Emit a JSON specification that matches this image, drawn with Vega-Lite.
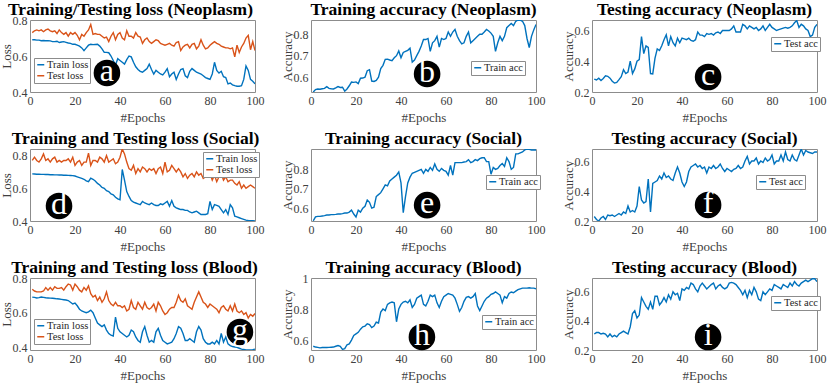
{
"$schema":"https://vega.github.io/schema/vega-lite/v6.json",
"background":"white",
"padding":{"left":-1,"top":0,"right":0,"bottom":0},
"columns":3,
"spacing":{"row":57,"column":56},
"bounds":"flush",
"resolve":{"scale":{"x":"independent","y":"independent","color":"independent"},"legend":{"color":"independent"}},
"datasets":{
"a":[{"e":1,"Train loss":0.69,"Test loss":0.73},{"e":2,"Train loss":0.69,"Test loss":0.74},{"e":3,"Train loss":0.688,"Test loss":0.745},{"e":4,"Train loss":0.688,"Test loss":0.74},{"e":5,"Train loss":0.685,"Test loss":0.745},{"e":6,"Train loss":0.686,"Test loss":0.735},{"e":7,"Train loss":0.685,"Test loss":0.745},{"e":8,"Train loss":0.685,"Test loss":0.75},{"e":9,"Train loss":0.684,"Test loss":0.74},{"e":10,"Train loss":0.68,"Test loss":0.735},{"e":11,"Train loss":0.68,"Test loss":0.74},{"e":12,"Train loss":0.682,"Test loss":0.725},{"e":13,"Train loss":0.675,"Test loss":0.745},{"e":14,"Train loss":0.678,"Test loss":0.73},{"e":15,"Train loss":0.68,"Test loss":0.72},{"e":16,"Train loss":0.676,"Test loss":0.73},{"e":17,"Train loss":0.672,"Test loss":0.71},{"e":18,"Train loss":0.67,"Test loss":0.73},{"e":19,"Train loss":0.665,"Test loss":0.72},{"e":20,"Train loss":0.665,"Test loss":0.73},{"e":21,"Train loss":0.66,"Test loss":0.715},{"e":22,"Train loss":0.655,"Test loss":0.69},{"e":23,"Train loss":0.645,"Test loss":0.72},{"e":24,"Train loss":0.63,"Test loss":0.71},{"e":25,"Train loss":0.645,"Test loss":0.73},{"e":26,"Train loss":0.66,"Test loss":0.745},{"e":27,"Train loss":0.665,"Test loss":0.775},{"e":28,"Train loss":0.663,"Test loss":0.72},{"e":29,"Train loss":0.664,"Test loss":0.725},{"e":30,"Train loss":0.665,"Test loss":0.72},{"e":31,"Train loss":0.655,"Test loss":0.72},{"e":32,"Train loss":0.64,"Test loss":0.71},{"e":33,"Train loss":0.62,"Test loss":0.7},{"e":34,"Train loss":0.62,"Test loss":0.705},{"e":35,"Train loss":0.618,"Test loss":0.68},{"e":36,"Train loss":0.6,"Test loss":0.71},{"e":37,"Train loss":0.575,"Test loss":0.73},{"e":38,"Train loss":0.55,"Test loss":0.69},{"e":39,"Train loss":0.585,"Test loss":0.72},{"e":40,"Train loss":0.575,"Test loss":0.73},{"e":41,"Train loss":0.565,"Test loss":0.7},{"e":42,"Train loss":0.555,"Test loss":0.69},{"e":43,"Train loss":0.58,"Test loss":0.74},{"e":44,"Train loss":0.6,"Test loss":0.71},{"e":45,"Train loss":0.595,"Test loss":0.71},{"e":46,"Train loss":0.565,"Test loss":0.7},{"e":47,"Train loss":0.54,"Test loss":0.73},{"e":48,"Train loss":0.525,"Test loss":0.71},{"e":49,"Train loss":0.515,"Test loss":0.705},{"e":50,"Train loss":0.51,"Test loss":0.67},{"e":51,"Train loss":0.52,"Test loss":0.69},{"e":52,"Train loss":0.53,"Test loss":0.7},{"e":53,"Train loss":0.555,"Test loss":0.68},{"e":54,"Train loss":0.525,"Test loss":0.67},{"e":55,"Train loss":0.5,"Test loss":0.68},{"e":56,"Train loss":0.52,"Test loss":0.69},{"e":57,"Train loss":0.51,"Test loss":0.685},{"e":58,"Train loss":0.5,"Test loss":0.67},{"e":59,"Train loss":0.495,"Test loss":0.665},{"e":60,"Train loss":0.51,"Test loss":0.66},{"e":61,"Train loss":0.53,"Test loss":0.665},{"e":62,"Train loss":0.485,"Test loss":0.67},{"e":63,"Train loss":0.5,"Test loss":0.66},{"e":64,"Train loss":0.51,"Test loss":0.655},{"e":65,"Train loss":0.47,"Test loss":0.675},{"e":66,"Train loss":0.5,"Test loss":0.68},{"e":67,"Train loss":0.525,"Test loss":0.63},{"e":68,"Train loss":0.53,"Test loss":0.65},{"e":69,"Train loss":0.49,"Test loss":0.66},{"e":70,"Train loss":0.48,"Test loss":0.665},{"e":71,"Train loss":0.515,"Test loss":0.645},{"e":72,"Train loss":0.53,"Test loss":0.665},{"e":73,"Train loss":0.52,"Test loss":0.67},{"e":74,"Train loss":0.51,"Test loss":0.64},{"e":75,"Train loss":0.505,"Test loss":0.655},{"e":76,"Train loss":0.5,"Test loss":0.69},{"e":77,"Train loss":0.49,"Test loss":0.66},{"e":78,"Train loss":0.48,"Test loss":0.64},{"e":79,"Train loss":0.475,"Test loss":0.645},{"e":80,"Train loss":0.47,"Test loss":0.66},{"e":81,"Train loss":0.5,"Test loss":0.67},{"e":82,"Train loss":0.565,"Test loss":0.68},{"e":83,"Train loss":0.52,"Test loss":0.67},{"e":84,"Train loss":0.505,"Test loss":0.665},{"e":85,"Train loss":0.515,"Test loss":0.655},{"e":86,"Train loss":0.485,"Test loss":0.65},{"e":87,"Train loss":0.48,"Test loss":0.645},{"e":88,"Train loss":0.445,"Test loss":0.645},{"e":89,"Train loss":0.45,"Test loss":0.64},{"e":90,"Train loss":0.44,"Test loss":0.645},{"e":91,"Train loss":0.435,"Test loss":0.595},{"e":92,"Train loss":0.432,"Test loss":0.66},{"e":93,"Train loss":0.432,"Test loss":0.62},{"e":94,"Train loss":0.435,"Test loss":0.65},{"e":95,"Train loss":0.47,"Test loss":0.67},{"e":96,"Train loss":0.545,"Test loss":0.7},{"e":97,"Train loss":0.52,"Test loss":0.715},{"e":98,"Train loss":0.47,"Test loss":0.635},{"e":99,"Train loss":0.46,"Test loss":0.68},{"e":100,"Train loss":0.445,"Test loss":0.63}],
"b":[{"e":1,"Train acc":0.531},{"e":2,"Train acc":0.542},{"e":3,"Train acc":0.545},{"e":4,"Train acc":0.544},{"e":5,"Train acc":0.546},{"e":6,"Train acc":0.548},{"e":7,"Train acc":0.556},{"e":8,"Train acc":0.548},{"e":9,"Train acc":0.546},{"e":10,"Train acc":0.545},{"e":11,"Train acc":0.55},{"e":12,"Train acc":0.556},{"e":13,"Train acc":0.552},{"e":14,"Train acc":0.553},{"e":15,"Train acc":0.535},{"e":16,"Train acc":0.545},{"e":17,"Train acc":0.56},{"e":18,"Train acc":0.577},{"e":19,"Train acc":0.576},{"e":20,"Train acc":0.578},{"e":21,"Train acc":0.57},{"e":22,"Train acc":0.595},{"e":23,"Train acc":0.596},{"e":24,"Train acc":0.6},{"e":25,"Train acc":0.63},{"e":26,"Train acc":0.635},{"e":27,"Train acc":0.582},{"e":28,"Train acc":0.58},{"e":29,"Train acc":0.585},{"e":30,"Train acc":0.6},{"e":31,"Train acc":0.64},{"e":32,"Train acc":0.655},{"e":33,"Train acc":0.683},{"e":34,"Train acc":0.684},{"e":35,"Train acc":0.68},{"e":36,"Train acc":0.677},{"e":37,"Train acc":0.69},{"e":38,"Train acc":0.7},{"e":39,"Train acc":0.722},{"e":40,"Train acc":0.69},{"e":41,"Train acc":0.715},{"e":42,"Train acc":0.72},{"e":43,"Train acc":0.725},{"e":44,"Train acc":0.735},{"e":45,"Train acc":0.67},{"e":46,"Train acc":0.68},{"e":47,"Train acc":0.7},{"e":48,"Train acc":0.72},{"e":49,"Train acc":0.745},{"e":50,"Train acc":0.775},{"e":51,"Train acc":0.775},{"e":52,"Train acc":0.78},{"e":53,"Train acc":0.72},{"e":54,"Train acc":0.76},{"e":55,"Train acc":0.77},{"e":56,"Train acc":0.79},{"e":57,"Train acc":0.74},{"e":58,"Train acc":0.78},{"e":59,"Train acc":0.775},{"e":60,"Train acc":0.78},{"e":61,"Train acc":0.81},{"e":62,"Train acc":0.79},{"e":63,"Train acc":0.81},{"e":64,"Train acc":0.822},{"e":65,"Train acc":0.79},{"e":66,"Train acc":0.77},{"e":67,"Train acc":0.755},{"e":68,"Train acc":0.76},{"e":69,"Train acc":0.79},{"e":70,"Train acc":0.81},{"e":71,"Train acc":0.76},{"e":72,"Train acc":0.77},{"e":73,"Train acc":0.78},{"e":74,"Train acc":0.79},{"e":75,"Train acc":0.8},{"e":76,"Train acc":0.8},{"e":77,"Train acc":0.81},{"e":78,"Train acc":0.822},{"e":79,"Train acc":0.815},{"e":80,"Train acc":0.805},{"e":81,"Train acc":0.79},{"e":82,"Train acc":0.72},{"e":83,"Train acc":0.76},{"e":84,"Train acc":0.79},{"e":85,"Train acc":0.77},{"e":86,"Train acc":0.79},{"e":87,"Train acc":0.83},{"e":88,"Train acc":0.84},{"e":89,"Train acc":0.85},{"e":90,"Train acc":0.84},{"e":91,"Train acc":0.86},{"e":92,"Train acc":0.866},{"e":93,"Train acc":0.865},{"e":94,"Train acc":0.86},{"e":95,"Train acc":0.84},{"e":96,"Train acc":0.78},{"e":97,"Train acc":0.738},{"e":98,"Train acc":0.79},{"e":99,"Train acc":0.82},{"e":100,"Train acc":0.845}],
"c":[{"e":1,"Test acc":0.284},{"e":2,"Test acc":0.278},{"e":3,"Test acc":0.29},{"e":4,"Test acc":0.275},{"e":5,"Test acc":0.288},{"e":6,"Test acc":0.305},{"e":7,"Test acc":0.302},{"e":8,"Test acc":0.29},{"e":9,"Test acc":0.27},{"e":10,"Test acc":0.258},{"e":11,"Test acc":0.262},{"e":12,"Test acc":0.28},{"e":13,"Test acc":0.3},{"e":14,"Test acc":0.345},{"e":15,"Test acc":0.32},{"e":16,"Test acc":0.33},{"e":17,"Test acc":0.4},{"e":18,"Test acc":0.32},{"e":19,"Test acc":0.35},{"e":20,"Test acc":0.4},{"e":21,"Test acc":0.41},{"e":22,"Test acc":0.56},{"e":23,"Test acc":0.45},{"e":24,"Test acc":0.5},{"e":25,"Test acc":0.49},{"e":26,"Test acc":0.32},{"e":27,"Test acc":0.318},{"e":28,"Test acc":0.42},{"e":29,"Test acc":0.48},{"e":30,"Test acc":0.47},{"e":31,"Test acc":0.5},{"e":32,"Test acc":0.54},{"e":33,"Test acc":0.572},{"e":34,"Test acc":0.5},{"e":35,"Test acc":0.56},{"e":36,"Test acc":0.52},{"e":37,"Test acc":0.5},{"e":38,"Test acc":0.55},{"e":39,"Test acc":0.52},{"e":40,"Test acc":0.55},{"e":41,"Test acc":0.545},{"e":42,"Test acc":0.54},{"e":43,"Test acc":0.55},{"e":44,"Test acc":0.535},{"e":45,"Test acc":0.53},{"e":46,"Test acc":0.54},{"e":47,"Test acc":0.59},{"e":48,"Test acc":0.57},{"e":49,"Test acc":0.57},{"e":50,"Test acc":0.56},{"e":51,"Test acc":0.58},{"e":52,"Test acc":0.575},{"e":53,"Test acc":0.58},{"e":54,"Test acc":0.57},{"e":55,"Test acc":0.585},{"e":56,"Test acc":0.59},{"e":57,"Test acc":0.58},{"e":58,"Test acc":0.6},{"e":59,"Test acc":0.6},{"e":60,"Test acc":0.6},{"e":61,"Test acc":0.6},{"e":62,"Test acc":0.61},{"e":63,"Test acc":0.63},{"e":64,"Test acc":0.59},{"e":65,"Test acc":0.59},{"e":66,"Test acc":0.59},{"e":67,"Test acc":0.64},{"e":68,"Test acc":0.63},{"e":69,"Test acc":0.61},{"e":70,"Test acc":0.63},{"e":71,"Test acc":0.62},{"e":72,"Test acc":0.61},{"e":73,"Test acc":0.62},{"e":74,"Test acc":0.6},{"e":75,"Test acc":0.61},{"e":76,"Test acc":0.63},{"e":77,"Test acc":0.6},{"e":78,"Test acc":0.62},{"e":79,"Test acc":0.64},{"e":80,"Test acc":0.62},{"e":81,"Test acc":0.61},{"e":82,"Test acc":0.6},{"e":83,"Test acc":0.605},{"e":84,"Test acc":0.61},{"e":85,"Test acc":0.615},{"e":86,"Test acc":0.62},{"e":87,"Test acc":0.615},{"e":88,"Test acc":0.62},{"e":89,"Test acc":0.63},{"e":90,"Test acc":0.65},{"e":91,"Test acc":0.665},{"e":92,"Test acc":0.62},{"e":93,"Test acc":0.64},{"e":94,"Test acc":0.63},{"e":95,"Test acc":0.61},{"e":96,"Test acc":0.6},{"e":97,"Test acc":0.56},{"e":98,"Test acc":0.57},{"e":99,"Test acc":0.62},{"e":100,"Test acc":0.64}],
"d":[{"e":1,"Train loss":0.688,"Test loss":0.77},{"e":2,"Train loss":0.687,"Test loss":0.79},{"e":3,"Train loss":0.686,"Test loss":0.77},{"e":4,"Train loss":0.686,"Test loss":0.76},{"e":5,"Train loss":0.685,"Test loss":0.78},{"e":6,"Train loss":0.685,"Test loss":0.81},{"e":7,"Train loss":0.684,"Test loss":0.77},{"e":8,"Train loss":0.684,"Test loss":0.78},{"e":9,"Train loss":0.683,"Test loss":0.76},{"e":10,"Train loss":0.683,"Test loss":0.78},{"e":11,"Train loss":0.682,"Test loss":0.79},{"e":12,"Train loss":0.682,"Test loss":0.76},{"e":13,"Train loss":0.681,"Test loss":0.77},{"e":14,"Train loss":0.681,"Test loss":0.76},{"e":15,"Train loss":0.68,"Test loss":0.77},{"e":16,"Train loss":0.68,"Test loss":0.77},{"e":17,"Train loss":0.679,"Test loss":0.78},{"e":18,"Train loss":0.678,"Test loss":0.76},{"e":19,"Train loss":0.677,"Test loss":0.79},{"e":20,"Train loss":0.675,"Test loss":0.74},{"e":21,"Train loss":0.67,"Test loss":0.76},{"e":22,"Train loss":0.665,"Test loss":0.77},{"e":23,"Train loss":0.66,"Test loss":0.74},{"e":24,"Train loss":0.655,"Test loss":0.76},{"e":25,"Train loss":0.645,"Test loss":0.76},{"e":26,"Train loss":0.64,"Test loss":0.815},{"e":27,"Train loss":0.662,"Test loss":0.74},{"e":28,"Train loss":0.655,"Test loss":0.77},{"e":29,"Train loss":0.645,"Test loss":0.77},{"e":30,"Train loss":0.63,"Test loss":0.76},{"e":31,"Train loss":0.62,"Test loss":0.79},{"e":32,"Train loss":0.605,"Test loss":0.78},{"e":33,"Train loss":0.6,"Test loss":0.76},{"e":34,"Train loss":0.585,"Test loss":0.8},{"e":35,"Train loss":0.58,"Test loss":0.76},{"e":36,"Train loss":0.565,"Test loss":0.77},{"e":37,"Train loss":0.56,"Test loss":0.78},{"e":38,"Train loss":0.545,"Test loss":0.75},{"e":39,"Train loss":0.535,"Test loss":0.76},{"e":40,"Train loss":0.53,"Test loss":0.79},{"e":41,"Train loss":0.715,"Test loss":0.84},{"e":42,"Train loss":0.65,"Test loss":0.81},{"e":43,"Train loss":0.58,"Test loss":0.76},{"e":44,"Train loss":0.55,"Test loss":0.72},{"e":45,"Train loss":0.525,"Test loss":0.71},{"e":46,"Train loss":0.515,"Test loss":0.74},{"e":47,"Train loss":0.51,"Test loss":0.69},{"e":48,"Train loss":0.505,"Test loss":0.72},{"e":49,"Train loss":0.5,"Test loss":0.7},{"e":50,"Train loss":0.52,"Test loss":0.73},{"e":51,"Train loss":0.51,"Test loss":0.72},{"e":52,"Train loss":0.505,"Test loss":0.7},{"e":53,"Train loss":0.5,"Test loss":0.72},{"e":54,"Train loss":0.51,"Test loss":0.71},{"e":55,"Train loss":0.5,"Test loss":0.72},{"e":56,"Train loss":0.495,"Test loss":0.69},{"e":57,"Train loss":0.495,"Test loss":0.72},{"e":58,"Train loss":0.505,"Test loss":0.73},{"e":59,"Train loss":0.5,"Test loss":0.69},{"e":60,"Train loss":0.51,"Test loss":0.76},{"e":61,"Train loss":0.52,"Test loss":0.7},{"e":62,"Train loss":0.49,"Test loss":0.71},{"e":63,"Train loss":0.525,"Test loss":0.74},{"e":64,"Train loss":0.49,"Test loss":0.72},{"e":65,"Train loss":0.48,"Test loss":0.7},{"e":66,"Train loss":0.475,"Test loss":0.72},{"e":67,"Train loss":0.47,"Test loss":0.7},{"e":68,"Train loss":0.47,"Test loss":0.67},{"e":69,"Train loss":0.465,"Test loss":0.69},{"e":70,"Train loss":0.465,"Test loss":0.66},{"e":71,"Train loss":0.455,"Test loss":0.68},{"e":72,"Train loss":0.45,"Test loss":0.69},{"e":73,"Train loss":0.455,"Test loss":0.67},{"e":74,"Train loss":0.46,"Test loss":0.7},{"e":75,"Train loss":0.45,"Test loss":0.68},{"e":76,"Train loss":0.44,"Test loss":0.69},{"e":77,"Train loss":0.44,"Test loss":0.66},{"e":78,"Train loss":0.44,"Test loss":0.67},{"e":79,"Train loss":0.445,"Test loss":0.7},{"e":80,"Train loss":0.52,"Test loss":0.69},{"e":81,"Train loss":0.47,"Test loss":0.65},{"e":82,"Train loss":0.5,"Test loss":0.68},{"e":83,"Train loss":0.495,"Test loss":0.64},{"e":84,"Train loss":0.49,"Test loss":0.67},{"e":85,"Train loss":0.47,"Test loss":0.69},{"e":86,"Train loss":0.45,"Test loss":0.65},{"e":87,"Train loss":0.47,"Test loss":0.67},{"e":88,"Train loss":0.44,"Test loss":0.64},{"e":89,"Train loss":0.5,"Test loss":0.65},{"e":90,"Train loss":0.48,"Test loss":0.65},{"e":91,"Train loss":0.43,"Test loss":0.63},{"e":92,"Train loss":0.425,"Test loss":0.62},{"e":93,"Train loss":0.42,"Test loss":0.64},{"e":94,"Train loss":0.415,"Test loss":0.6},{"e":95,"Train loss":0.41,"Test loss":0.62},{"e":96,"Train loss":0.405,"Test loss":0.6},{"e":97,"Train loss":0.403,"Test loss":0.61},{"e":98,"Train loss":0.402,"Test loss":0.62},{"e":99,"Train loss":0.402,"Test loss":0.61},{"e":100,"Train loss":0.401,"Test loss":0.6}],
"e":[{"e":1,"Train acc":0.535},{"e":2,"Train acc":0.555},{"e":3,"Train acc":0.558},{"e":4,"Train acc":0.558},{"e":5,"Train acc":0.56},{"e":6,"Train acc":0.562},{"e":7,"Train acc":0.565},{"e":8,"Train acc":0.565},{"e":9,"Train acc":0.567},{"e":10,"Train acc":0.567},{"e":11,"Train acc":0.568},{"e":12,"Train acc":0.57},{"e":13,"Train acc":0.57},{"e":14,"Train acc":0.572},{"e":15,"Train acc":0.575},{"e":16,"Train acc":0.575},{"e":17,"Train acc":0.58},{"e":18,"Train acc":0.59},{"e":19,"Train acc":0.57},{"e":20,"Train acc":0.555},{"e":21,"Train acc":0.59},{"e":22,"Train acc":0.58},{"e":23,"Train acc":0.6},{"e":24,"Train acc":0.61},{"e":25,"Train acc":0.642},{"e":26,"Train acc":0.63},{"e":27,"Train acc":0.6},{"e":28,"Train acc":0.605},{"e":29,"Train acc":0.66},{"e":30,"Train acc":0.67},{"e":31,"Train acc":0.68},{"e":32,"Train acc":0.7},{"e":33,"Train acc":0.72},{"e":34,"Train acc":0.715},{"e":35,"Train acc":0.74},{"e":36,"Train acc":0.75},{"e":37,"Train acc":0.76},{"e":38,"Train acc":0.77},{"e":39,"Train acc":0.787},{"e":40,"Train acc":0.73},{"e":41,"Train acc":0.577},{"e":42,"Train acc":0.66},{"e":43,"Train acc":0.73},{"e":44,"Train acc":0.76},{"e":45,"Train acc":0.78},{"e":46,"Train acc":0.785},{"e":47,"Train acc":0.79},{"e":48,"Train acc":0.795},{"e":49,"Train acc":0.8},{"e":50,"Train acc":0.78},{"e":51,"Train acc":0.8},{"e":52,"Train acc":0.79},{"e":53,"Train acc":0.81},{"e":54,"Train acc":0.795},{"e":55,"Train acc":0.828},{"e":56,"Train acc":0.8},{"e":57,"Train acc":0.79},{"e":58,"Train acc":0.805},{"e":59,"Train acc":0.795},{"e":60,"Train acc":0.79},{"e":61,"Train acc":0.77},{"e":62,"Train acc":0.82},{"e":63,"Train acc":0.77},{"e":64,"Train acc":0.835},{"e":65,"Train acc":0.835},{"e":66,"Train acc":0.835},{"e":67,"Train acc":0.835},{"e":68,"Train acc":0.838},{"e":69,"Train acc":0.84},{"e":70,"Train acc":0.85},{"e":71,"Train acc":0.835},{"e":72,"Train acc":0.84},{"e":73,"Train acc":0.85},{"e":74,"Train acc":0.845},{"e":75,"Train acc":0.855},{"e":76,"Train acc":0.86},{"e":77,"Train acc":0.86},{"e":78,"Train acc":0.84},{"e":79,"Train acc":0.84},{"e":80,"Train acc":0.775},{"e":81,"Train acc":0.81},{"e":82,"Train acc":0.8},{"e":83,"Train acc":0.805},{"e":84,"Train acc":0.82},{"e":85,"Train acc":0.83},{"e":86,"Train acc":0.815},{"e":87,"Train acc":0.86},{"e":88,"Train acc":0.84},{"e":89,"Train acc":0.8},{"e":90,"Train acc":0.81},{"e":91,"Train acc":0.88},{"e":92,"Train acc":0.88},{"e":93,"Train acc":0.885},{"e":94,"Train acc":0.89},{"e":95,"Train acc":0.9},{"e":96,"Train acc":0.905},{"e":97,"Train acc":0.903},{"e":98,"Train acc":0.9},{"e":99,"Train acc":0.9},{"e":100,"Train acc":0.9}],
"f":[{"e":1,"Test acc":0.23},{"e":2,"Test acc":0.21},{"e":3,"Test acc":0.2},{"e":4,"Test acc":0.22},{"e":5,"Test acc":0.23},{"e":6,"Test acc":0.21},{"e":7,"Test acc":0.24},{"e":8,"Test acc":0.235},{"e":9,"Test acc":0.24},{"e":10,"Test acc":0.23},{"e":11,"Test acc":0.24},{"e":12,"Test acc":0.25},{"e":13,"Test acc":0.24},{"e":14,"Test acc":0.26},{"e":15,"Test acc":0.25},{"e":16,"Test acc":0.3},{"e":17,"Test acc":0.26},{"e":18,"Test acc":0.27},{"e":19,"Test acc":0.26},{"e":20,"Test acc":0.3},{"e":21,"Test acc":0.43},{"e":22,"Test acc":0.34},{"e":23,"Test acc":0.32},{"e":24,"Test acc":0.33},{"e":25,"Test acc":0.48},{"e":26,"Test acc":0.26},{"e":27,"Test acc":0.45},{"e":28,"Test acc":0.46},{"e":29,"Test acc":0.47},{"e":30,"Test acc":0.5},{"e":31,"Test acc":0.48},{"e":32,"Test acc":0.52},{"e":33,"Test acc":0.49},{"e":34,"Test acc":0.5},{"e":35,"Test acc":0.48},{"e":36,"Test acc":0.47},{"e":37,"Test acc":0.52},{"e":38,"Test acc":0.56},{"e":39,"Test acc":0.52},{"e":40,"Test acc":0.46},{"e":41,"Test acc":0.43},{"e":42,"Test acc":0.46},{"e":43,"Test acc":0.53},{"e":44,"Test acc":0.56},{"e":45,"Test acc":0.57},{"e":46,"Test acc":0.58},{"e":47,"Test acc":0.56},{"e":48,"Test acc":0.57},{"e":49,"Test acc":0.55},{"e":50,"Test acc":0.56},{"e":51,"Test acc":0.52},{"e":52,"Test acc":0.56},{"e":53,"Test acc":0.55},{"e":54,"Test acc":0.57},{"e":55,"Test acc":0.55},{"e":56,"Test acc":0.56},{"e":57,"Test acc":0.58},{"e":58,"Test acc":0.55},{"e":59,"Test acc":0.53},{"e":60,"Test acc":0.55},{"e":61,"Test acc":0.54},{"e":62,"Test acc":0.53},{"e":63,"Test acc":0.545},{"e":64,"Test acc":0.55},{"e":65,"Test acc":0.57},{"e":66,"Test acc":0.55},{"e":67,"Test acc":0.56},{"e":68,"Test acc":0.6},{"e":69,"Test acc":0.63},{"e":70,"Test acc":0.58},{"e":71,"Test acc":0.6},{"e":72,"Test acc":0.6},{"e":73,"Test acc":0.62},{"e":74,"Test acc":0.58},{"e":75,"Test acc":0.6},{"e":76,"Test acc":0.59},{"e":77,"Test acc":0.62},{"e":78,"Test acc":0.6},{"e":79,"Test acc":0.61},{"e":80,"Test acc":0.64},{"e":81,"Test acc":0.58},{"e":82,"Test acc":0.6},{"e":83,"Test acc":0.6},{"e":84,"Test acc":0.64},{"e":85,"Test acc":0.6},{"e":86,"Test acc":0.66},{"e":87,"Test acc":0.61},{"e":88,"Test acc":0.6},{"e":89,"Test acc":0.64},{"e":90,"Test acc":0.61},{"e":91,"Test acc":0.6},{"e":92,"Test acc":0.64},{"e":93,"Test acc":0.68},{"e":94,"Test acc":0.64},{"e":95,"Test acc":0.67},{"e":96,"Test acc":0.66},{"e":97,"Test acc":0.655},{"e":98,"Test acc":0.65},{"e":99,"Test acc":0.66},{"e":100,"Test acc":0.66}],
"g":[{"e":1,"Train loss":0.69,"Test loss":0.735},{"e":2,"Train loss":0.688,"Test loss":0.725},{"e":3,"Train loss":0.685,"Test loss":0.72},{"e":4,"Train loss":0.687,"Test loss":0.72},{"e":5,"Train loss":0.69,"Test loss":0.72},{"e":6,"Train loss":0.688,"Test loss":0.725},{"e":7,"Train loss":0.686,"Test loss":0.745},{"e":8,"Train loss":0.685,"Test loss":0.73},{"e":9,"Train loss":0.684,"Test loss":0.745},{"e":10,"Train loss":0.683,"Test loss":0.73},{"e":11,"Train loss":0.682,"Test loss":0.75},{"e":12,"Train loss":0.68,"Test loss":0.74},{"e":13,"Train loss":0.679,"Test loss":0.74},{"e":14,"Train loss":0.677,"Test loss":0.745},{"e":15,"Train loss":0.675,"Test loss":0.73},{"e":16,"Train loss":0.673,"Test loss":0.75},{"e":17,"Train loss":0.67,"Test loss":0.765},{"e":18,"Train loss":0.66,"Test loss":0.76},{"e":19,"Train loss":0.65,"Test loss":0.73},{"e":20,"Train loss":0.655,"Test loss":0.765},{"e":21,"Train loss":0.64,"Test loss":0.75},{"e":22,"Train loss":0.62,"Test loss":0.73},{"e":23,"Train loss":0.61,"Test loss":0.72},{"e":24,"Train loss":0.605,"Test loss":0.745},{"e":25,"Train loss":0.6,"Test loss":0.73},{"e":26,"Train loss":0.605,"Test loss":0.755},{"e":27,"Train loss":0.615,"Test loss":0.71},{"e":28,"Train loss":0.6,"Test loss":0.69},{"e":29,"Train loss":0.57,"Test loss":0.7},{"e":30,"Train loss":0.54,"Test loss":0.67},{"e":31,"Train loss":0.53,"Test loss":0.69},{"e":32,"Train loss":0.52,"Test loss":0.66},{"e":33,"Train loss":0.53,"Test loss":0.68},{"e":34,"Train loss":0.5,"Test loss":0.72},{"e":35,"Train loss":0.48,"Test loss":0.67},{"e":36,"Train loss":0.47,"Test loss":0.65},{"e":37,"Train loss":0.465,"Test loss":0.64},{"e":38,"Train loss":0.575,"Test loss":0.66},{"e":39,"Train loss":0.51,"Test loss":0.64},{"e":40,"Train loss":0.49,"Test loss":0.64},{"e":41,"Train loss":0.48,"Test loss":0.63},{"e":42,"Train loss":0.47,"Test loss":0.64},{"e":43,"Train loss":0.46,"Test loss":0.61},{"e":44,"Train loss":0.47,"Test loss":0.62},{"e":45,"Train loss":0.5,"Test loss":0.67},{"e":46,"Train loss":0.49,"Test loss":0.63},{"e":47,"Train loss":0.46,"Test loss":0.62},{"e":48,"Train loss":0.44,"Test loss":0.66},{"e":49,"Train loss":0.43,"Test loss":0.64},{"e":50,"Train loss":0.49,"Test loss":0.62},{"e":51,"Train loss":0.52,"Test loss":0.66},{"e":52,"Train loss":0.47,"Test loss":0.63},{"e":53,"Train loss":0.43,"Test loss":0.62},{"e":54,"Train loss":0.44,"Test loss":0.63},{"e":55,"Train loss":0.43,"Test loss":0.65},{"e":56,"Train loss":0.49,"Test loss":0.61},{"e":57,"Train loss":0.51,"Test loss":0.66},{"e":58,"Train loss":0.47,"Test loss":0.64},{"e":59,"Train loss":0.44,"Test loss":0.61},{"e":60,"Train loss":0.43,"Test loss":0.59},{"e":61,"Train loss":0.42,"Test loss":0.6},{"e":62,"Train loss":0.425,"Test loss":0.62},{"e":63,"Train loss":0.43,"Test loss":0.63},{"e":64,"Train loss":0.45,"Test loss":0.63},{"e":65,"Train loss":0.48,"Test loss":0.66},{"e":66,"Train loss":0.52,"Test loss":0.7},{"e":67,"Train loss":0.51,"Test loss":0.67},{"e":68,"Train loss":0.48,"Test loss":0.66},{"e":69,"Train loss":0.44,"Test loss":0.68},{"e":70,"Train loss":0.44,"Test loss":0.64},{"e":71,"Train loss":0.45,"Test loss":0.63},{"e":72,"Train loss":0.44,"Test loss":0.62},{"e":73,"Train loss":0.43,"Test loss":0.66},{"e":74,"Train loss":0.49,"Test loss":0.69},{"e":75,"Train loss":0.52,"Test loss":0.72},{"e":76,"Train loss":0.5,"Test loss":0.69},{"e":77,"Train loss":0.45,"Test loss":0.66},{"e":78,"Train loss":0.43,"Test loss":0.65},{"e":79,"Train loss":0.42,"Test loss":0.63},{"e":80,"Train loss":0.42,"Test loss":0.65},{"e":81,"Train loss":0.43,"Test loss":0.64},{"e":82,"Train loss":0.42,"Test loss":0.63},{"e":83,"Train loss":0.44,"Test loss":0.62},{"e":84,"Train loss":0.42,"Test loss":0.6},{"e":85,"Train loss":0.48,"Test loss":0.63},{"e":86,"Train loss":0.43,"Test loss":0.64},{"e":87,"Train loss":0.46,"Test loss":0.62},{"e":88,"Train loss":0.42,"Test loss":0.61},{"e":89,"Train loss":0.41,"Test loss":0.64},{"e":90,"Train loss":0.405,"Test loss":0.61},{"e":91,"Train loss":0.402,"Test loss":0.65},{"e":92,"Train loss":0.4,"Test loss":0.61},{"e":93,"Train loss":0.395,"Test loss":0.6},{"e":94,"Train loss":0.39,"Test loss":0.61},{"e":95,"Train loss":0.388,"Test loss":0.59},{"e":96,"Train loss":0.385,"Test loss":0.6},{"e":97,"Train loss":0.385,"Test loss":0.57},{"e":98,"Train loss":0.385,"Test loss":0.59},{"e":99,"Train loss":0.387,"Test loss":0.58},{"e":100,"Train loss":0.39,"Test loss":0.595}],
"h":[{"e":1,"Train acc":0.56},{"e":2,"Train acc":0.555},{"e":3,"Train acc":0.553},{"e":4,"Train acc":0.55},{"e":5,"Train acc":0.552},{"e":6,"Train acc":0.553},{"e":7,"Train acc":0.552},{"e":8,"Train acc":0.553},{"e":9,"Train acc":0.554},{"e":10,"Train acc":0.555},{"e":11,"Train acc":0.56},{"e":12,"Train acc":0.565},{"e":13,"Train acc":0.56},{"e":14,"Train acc":0.54},{"e":15,"Train acc":0.545},{"e":16,"Train acc":0.57},{"e":17,"Train acc":0.575},{"e":18,"Train acc":0.6},{"e":19,"Train acc":0.63},{"e":20,"Train acc":0.64},{"e":21,"Train acc":0.65},{"e":22,"Train acc":0.67},{"e":23,"Train acc":0.685},{"e":24,"Train acc":0.69},{"e":25,"Train acc":0.705},{"e":26,"Train acc":0.7},{"e":27,"Train acc":0.68},{"e":28,"Train acc":0.69},{"e":29,"Train acc":0.715},{"e":30,"Train acc":0.71},{"e":31,"Train acc":0.78},{"e":32,"Train acc":0.8},{"e":33,"Train acc":0.79},{"e":34,"Train acc":0.83},{"e":35,"Train acc":0.84},{"e":36,"Train acc":0.845},{"e":37,"Train acc":0.84},{"e":38,"Train acc":0.718},{"e":39,"Train acc":0.8},{"e":40,"Train acc":0.83},{"e":41,"Train acc":0.845},{"e":42,"Train acc":0.85},{"e":43,"Train acc":0.84},{"e":44,"Train acc":0.86},{"e":45,"Train acc":0.81},{"e":46,"Train acc":0.83},{"e":47,"Train acc":0.87},{"e":48,"Train acc":0.88},{"e":49,"Train acc":0.89},{"e":50,"Train acc":0.83},{"e":51,"Train acc":0.82},{"e":52,"Train acc":0.85},{"e":53,"Train acc":0.89},{"e":54,"Train acc":0.88},{"e":55,"Train acc":0.89},{"e":56,"Train acc":0.84},{"e":57,"Train acc":0.81},{"e":58,"Train acc":0.85},{"e":59,"Train acc":0.88},{"e":60,"Train acc":0.89},{"e":61,"Train acc":0.9},{"e":62,"Train acc":0.895},{"e":63,"Train acc":0.89},{"e":64,"Train acc":0.87},{"e":65,"Train acc":0.83},{"e":66,"Train acc":0.785},{"e":67,"Train acc":0.81},{"e":68,"Train acc":0.85},{"e":69,"Train acc":0.875},{"e":70,"Train acc":0.88},{"e":71,"Train acc":0.87},{"e":72,"Train acc":0.88},{"e":73,"Train acc":0.9},{"e":74,"Train acc":0.82},{"e":75,"Train acc":0.79},{"e":76,"Train acc":0.82},{"e":77,"Train acc":0.85},{"e":78,"Train acc":0.87},{"e":79,"Train acc":0.88},{"e":80,"Train acc":0.895},{"e":81,"Train acc":0.9},{"e":82,"Train acc":0.91},{"e":83,"Train acc":0.9},{"e":84,"Train acc":0.89},{"e":85,"Train acc":0.84},{"e":86,"Train acc":0.88},{"e":87,"Train acc":0.87},{"e":88,"Train acc":0.9},{"e":89,"Train acc":0.91},{"e":90,"Train acc":0.905},{"e":91,"Train acc":0.915},{"e":92,"Train acc":0.925},{"e":93,"Train acc":0.93},{"e":94,"Train acc":0.935},{"e":95,"Train acc":0.935},{"e":96,"Train acc":0.935},{"e":97,"Train acc":0.937},{"e":98,"Train acc":0.935},{"e":99,"Train acc":0.935},{"e":100,"Train acc":0.93}],
"i":[{"e":1,"Test acc":0.31},{"e":2,"Test acc":0.32},{"e":3,"Test acc":0.32},{"e":4,"Test acc":0.31},{"e":5,"Test acc":0.315},{"e":6,"Test acc":0.31},{"e":7,"Test acc":0.29},{"e":8,"Test acc":0.31},{"e":9,"Test acc":0.29},{"e":10,"Test acc":0.3},{"e":11,"Test acc":0.29},{"e":12,"Test acc":0.31},{"e":13,"Test acc":0.32},{"e":14,"Test acc":0.33},{"e":15,"Test acc":0.32},{"e":16,"Test acc":0.31},{"e":17,"Test acc":0.36},{"e":18,"Test acc":0.45},{"e":19,"Test acc":0.47},{"e":20,"Test acc":0.42},{"e":21,"Test acc":0.44},{"e":22,"Test acc":0.56},{"e":23,"Test acc":0.53},{"e":24,"Test acc":0.5},{"e":25,"Test acc":0.48},{"e":26,"Test acc":0.53},{"e":27,"Test acc":0.48},{"e":28,"Test acc":0.57},{"e":29,"Test acc":0.57},{"e":30,"Test acc":0.51},{"e":31,"Test acc":0.53},{"e":32,"Test acc":0.56},{"e":33,"Test acc":0.53},{"e":34,"Test acc":0.58},{"e":35,"Test acc":0.55},{"e":36,"Test acc":0.6},{"e":37,"Test acc":0.58},{"e":38,"Test acc":0.59},{"e":39,"Test acc":0.54},{"e":40,"Test acc":0.62},{"e":41,"Test acc":0.61},{"e":42,"Test acc":0.63},{"e":43,"Test acc":0.62},{"e":44,"Test acc":0.66},{"e":45,"Test acc":0.65},{"e":46,"Test acc":0.62},{"e":47,"Test acc":0.6},{"e":48,"Test acc":0.64},{"e":49,"Test acc":0.66},{"e":50,"Test acc":0.64},{"e":51,"Test acc":0.62},{"e":52,"Test acc":0.635},{"e":53,"Test acc":0.65},{"e":54,"Test acc":0.66},{"e":55,"Test acc":0.62},{"e":56,"Test acc":0.64},{"e":57,"Test acc":0.65},{"e":58,"Test acc":0.63},{"e":59,"Test acc":0.62},{"e":60,"Test acc":0.63},{"e":61,"Test acc":0.66},{"e":62,"Test acc":0.665},{"e":63,"Test acc":0.66},{"e":64,"Test acc":0.65},{"e":65,"Test acc":0.63},{"e":66,"Test acc":0.61},{"e":67,"Test acc":0.58},{"e":68,"Test acc":0.61},{"e":69,"Test acc":0.56},{"e":70,"Test acc":0.61},{"e":71,"Test acc":0.58},{"e":72,"Test acc":0.63},{"e":73,"Test acc":0.6},{"e":74,"Test acc":0.55},{"e":75,"Test acc":0.54},{"e":76,"Test acc":0.6},{"e":77,"Test acc":0.58},{"e":78,"Test acc":0.6},{"e":79,"Test acc":0.62},{"e":80,"Test acc":0.61},{"e":81,"Test acc":0.65},{"e":82,"Test acc":0.64},{"e":83,"Test acc":0.63},{"e":84,"Test acc":0.62},{"e":85,"Test acc":0.65},{"e":86,"Test acc":0.64},{"e":87,"Test acc":0.63},{"e":88,"Test acc":0.66},{"e":89,"Test acc":0.64},{"e":90,"Test acc":0.67},{"e":91,"Test acc":0.65},{"e":92,"Test acc":0.64},{"e":93,"Test acc":0.66},{"e":94,"Test acc":0.67},{"e":95,"Test acc":0.68},{"e":96,"Test acc":0.67},{"e":97,"Test acc":0.68},{"e":98,"Test acc":0.69},{"e":99,"Test acc":0.69},{"e":100,"Test acc":0.67}]
},
"concat":[
{"width":225,"height":72,"title":{"text":"Training/Testing loss (Neoplasm)","dx":-12,"dy":6},"data":{"name":"a"},
 "encoding":{"x":{"field":"e","type":"quantitative","scale":{"domain":[0,100],"nice":false},"axis":{"values":[0,20,40,60,80,100],"title":"#Epochs"}},
  "y":{"field":"v","type":"quantitative","scale":{"domain":[0.4,0.8],"nice":false,"zero":false},"axis":{"values":[0.4,0.6,0.8],"format":"~g","title":"Loss"}}},
 "layer":[
  {"transform":[{"fold":["Train loss","Test loss"],"as":["s","v"]},{"filter":"isValid(datum.v)"}],"mark":{"type":"line","strokeWidth":1.4,"clip":true},
   "encoding":{"color":{"field":"s","type":"nominal","scale":{"domain":["Train loss","Test loss"],"range":["#0072BD","#D95319"]},"legend":{"orient":"none","legendX":4,"legendY":38,"title":null}}}},
  {"data":{"values":[{"e":34.2,"v":0.506,"t":"a"}]},"mark":{"type":"point","shape":"circle","filled":true,"color":"black","opacity":1,"size":707}},
  {"data":{"values":[{"e":34.2,"v":0.506,"t":"a"}]},"mark":{"type":"text","color":"white","fontSize":32,"font":"Liberation Serif","baseline":"middle","align":"center","dy":-2},"encoding":{"text":{"field":"t"}}}
 ]},
{"width":225,"height":72,"title":{"text":"Training accuracy (Neoplasm)"},"data":{"name":"b"},
 "encoding":{"x":{"field":"e","type":"quantitative","scale":{"domain":[0,100],"nice":false},"axis":{"values":[0,20,40,60,80,100],"title":"#Epochs"}},
  "y":{"field":"v","type":"quantitative","scale":{"domain":[0.531,0.866],"nice":false,"zero":false},"axis":{"values":[0.6,0.7,0.8],"format":"~g","title":"Accuracy"}}},
 "layer":[
  {"transform":[{"fold":["Train acc"],"as":["s","v"]},{"filter":"isValid(datum.v)"}],"mark":{"type":"line","strokeWidth":1.4,"clip":true},
   "encoding":{"color":{"field":"s","type":"nominal","scale":{"domain":["Train acc"],"range":["#0072BD"]},"legend":{"orient":"none","legendX":160,"legendY":41,"title":null}}}},
  {"data":{"values":[{"e":51.6,"v":0.615,"t":"b"}]},"mark":{"type":"point","shape":"circle","filled":true,"color":"black","opacity":1,"size":707}},
  {"data":{"values":[{"e":51.6,"v":0.615,"t":"b"}]},"mark":{"type":"text","color":"white","fontSize":32,"font":"Liberation Serif","baseline":"middle","align":"center","dy":-2},"encoding":{"text":{"field":"t"}}}
 ]},
{"width":225,"height":72,"title":{"text":"Testing accuracy (Neoplasm)"},"data":{"name":"c"},
 "encoding":{"x":{"field":"e","type":"quantitative","scale":{"domain":[0,100],"nice":false},"axis":{"values":[0,20,40,60,80,100],"title":"#Epochs"}},
  "y":{"field":"v","type":"quantitative","scale":{"domain":[0.2,0.668],"nice":false,"zero":false},"axis":{"values":[0.2,0.4,0.6],"format":"~g","title":"Accuracy"}}},
 "layer":[
  {"transform":[{"fold":["Test acc"],"as":["s","v"]},{"filter":"isValid(datum.v)"}],"mark":{"type":"line","strokeWidth":1.4,"clip":true},
   "encoding":{"color":{"field":"s","type":"nominal","scale":{"domain":["Test acc"],"range":["#0072BD"]},"legend":{"orient":"none","legendX":179,"legendY":17,"title":null}}}},
  {"data":{"values":[{"e":51.6,"v":0.2975,"t":"c"}]},"mark":{"type":"point","shape":"circle","filled":true,"color":"black","opacity":1,"size":707}},
  {"data":{"values":[{"e":51.6,"v":0.2975,"t":"c"}]},"mark":{"type":"text","color":"white","fontSize":32,"font":"Liberation Serif","baseline":"middle","align":"center","dy":-2},"encoding":{"text":{"field":"t"}}}
 ]},
{"width":225,"height":72,"title":{"text":"Training and Testing loss (Social)","dx":-7},"data":{"name":"d"},
 "encoding":{"x":{"field":"e","type":"quantitative","scale":{"domain":[0,100],"nice":false},"axis":{"values":[0,20,40,60,80,100],"title":"#Epochs"}},
  "y":{"field":"v","type":"quantitative","scale":{"domain":[0.4,0.84],"nice":false,"zero":false},"axis":{"values":[0.4,0.6,0.8],"format":"~g","title":"Loss"}}},
 "layer":[
  {"transform":[{"fold":["Train loss","Test loss"],"as":["s","v"]},{"filter":"isValid(datum.v)"}],"mark":{"type":"line","strokeWidth":1.4,"clip":true},
   "encoding":{"color":{"field":"s","type":"nominal","scale":{"domain":["Train loss","Test loss"],"range":["#0072BD","#D95319"]},"legend":{"orient":"none","legendX":173,"legendY":3,"title":null}}}},
  {"data":{"values":[{"e":12.9,"v":0.492,"t":"d"}]},"mark":{"type":"point","shape":"circle","filled":true,"color":"black","opacity":1,"size":707}},
  {"data":{"values":[{"e":12.9,"v":0.492,"t":"d"}]},"mark":{"type":"text","color":"white","fontSize":32,"font":"Liberation Serif","baseline":"middle","align":"center","dy":-2},"encoding":{"text":{"field":"t"}}}
 ]},
{"width":225,"height":72,"title":{"text":"Training accuracy (Social)"},"data":{"name":"e"},
 "encoding":{"x":{"field":"e","type":"quantitative","scale":{"domain":[0,100],"nice":false},"axis":{"values":[0,20,40,60,80,100],"title":"#Epochs"}},
  "y":{"field":"v","type":"quantitative","scale":{"domain":[0.534,0.905],"nice":false,"zero":false},"axis":{"values":[0.6,0.7,0.8],"format":"~g","title":"Accuracy"}}},
 "layer":[
  {"transform":[{"fold":["Train acc"],"as":["s","v"]},{"filter":"isValid(datum.v)"}],"mark":{"type":"line","strokeWidth":1.4,"clip":true},
   "encoding":{"color":{"field":"s","type":"nominal","scale":{"domain":["Train acc"],"range":["#0072BD"]},"legend":{"orient":"none","legendX":175,"legendY":26,"title":null}}}},
  {"data":{"values":[{"e":51.6,"v":0.616,"t":"e"}]},"mark":{"type":"point","shape":"circle","filled":true,"color":"black","opacity":1,"size":707}},
  {"data":{"values":[{"e":51.6,"v":0.616,"t":"e"}]},"mark":{"type":"text","color":"white","fontSize":32,"font":"Liberation Serif","baseline":"middle","align":"center","dy":-2},"encoding":{"text":{"field":"t"}}}
 ]},
{"width":225,"height":72,"title":{"text":"Testing accuracy (Social)"},"data":{"name":"f"},
 "encoding":{"x":{"field":"e","type":"quantitative","scale":{"domain":[0,100],"nice":false},"axis":{"values":[0,20,40,60,80,100],"title":"#Epochs"}},
  "y":{"field":"v","type":"quantitative","scale":{"domain":[0.2,0.68],"nice":false,"zero":false},"axis":{"values":[0.2,0.4,0.6],"format":"~g","title":"Accuracy"}}},
 "layer":[
  {"transform":[{"fold":["Test acc"],"as":["s","v"]},{"filter":"isValid(datum.v)"}],"mark":{"type":"line","strokeWidth":1.4,"clip":true},
   "encoding":{"color":{"field":"s","type":"nominal","scale":{"domain":["Test acc"],"range":["#0072BD"]},"legend":{"orient":"none","legendX":164,"legendY":26,"title":null}}}},
  {"data":{"values":[{"e":51.6,"v":0.307,"t":"f"}]},"mark":{"type":"point","shape":"circle","filled":true,"color":"black","opacity":1,"size":707}},
  {"data":{"values":[{"e":51.6,"v":0.307,"t":"f"}]},"mark":{"type":"text","color":"white","fontSize":32,"font":"Liberation Serif","baseline":"middle","align":"center","dy":-2},"encoding":{"text":{"field":"t"}}}
 ]},
{"width":225,"height":72,"title":{"text":"Training and Testing loss (Blood)","dx":-8,"dy":6},"data":{"name":"g"},
 "encoding":{"x":{"field":"e","type":"quantitative","scale":{"domain":[0,100],"nice":false},"axis":{"values":[0,20,40,60,80,100],"title":"#Epochs"}},
  "y":{"field":"v","type":"quantitative","scale":{"domain":[0.385,0.8],"nice":false,"zero":false},"axis":{"values":[0.4,0.6,0.8],"format":"~g","title":"Loss"}}},
 "layer":[
  {"transform":[{"fold":["Train loss","Test loss"],"as":["s","v"]},{"filter":"isValid(datum.v)"}],"mark":{"type":"line","strokeWidth":1.4,"clip":true},
   "encoding":{"color":{"field":"s","type":"nominal","scale":{"domain":["Train loss","Test loss"],"range":["#0072BD","#D95319"]},"legend":{"orient":"none","legendX":4,"legendY":41,"title":null}}}},
  {"data":{"values":[{"e":93.3,"v":0.489,"t":"g"}]},"mark":{"type":"point","shape":"circle","filled":true,"color":"black","opacity":1,"size":707}},
  {"data":{"values":[{"e":93.3,"v":0.489,"t":"g"}]},"mark":{"type":"text","color":"white","fontSize":32,"font":"Liberation Serif","baseline":"middle","align":"center","dy":-2},"encoding":{"text":{"field":"t"}}}
 ]},
{"width":225,"height":72,"title":{"text":"Training accuracy (Blood)","dy":6},"data":{"name":"h"},
 "encoding":{"x":{"field":"e","type":"quantitative","scale":{"domain":[0,100],"nice":false},"axis":{"values":[0,20,40,60,80,100],"title":"#Epochs"}},
  "y":{"field":"v","type":"quantitative","scale":{"domain":[0.536,1],"nice":false,"zero":false},"axis":{"values":[0.6,0.8,1],"format":"~g","title":"Accuracy"}}},
 "layer":[
  {"transform":[{"fold":["Train acc"],"as":["s","v"]},{"filter":"isValid(datum.v)"}],"mark":{"type":"line","strokeWidth":1.4,"clip":true},
   "encoding":{"color":{"field":"s","type":"nominal","scale":{"domain":["Train acc"],"range":["#0072BD"]},"legend":{"orient":"none","legendX":171,"legendY":37,"title":null}}}},
  {"data":{"values":[{"e":49.3,"v":0.62,"t":"h"}]},"mark":{"type":"point","shape":"circle","filled":true,"color":"black","opacity":1,"size":707}},
  {"data":{"values":[{"e":49.3,"v":0.62,"t":"h"}]},"mark":{"type":"text","color":"white","fontSize":32,"font":"Liberation Serif","baseline":"middle","align":"center","dy":-2},"encoding":{"text":{"field":"t"}}}
 ]},
{"width":225,"height":72,"title":{"text":"Testing accuracy (Blood)"},"data":{"name":"i"},
 "encoding":{"x":{"field":"e","type":"quantitative","scale":{"domain":[0,100],"nice":false},"axis":{"values":[0,20,40,60,80,100],"title":"#Epochs"}},
  "y":{"field":"v","type":"quantitative","scale":{"domain":[0.2,0.695],"nice":false,"zero":false},"axis":{"values":[0.2,0.4,0.6],"format":"~g","title":"Accuracy"}}},
 "layer":[
  {"transform":[{"fold":["Test acc"],"as":["s","v"]},{"filter":"isValid(datum.v)"}],"mark":{"type":"line","strokeWidth":1.4,"clip":true},
   "encoding":{"color":{"field":"s","type":"nominal","scale":{"domain":["Test acc"],"range":["#0072BD"]},"legend":{"orient":"none","legendX":179,"legendY":18,"title":null}}}},
  {"data":{"values":[{"e":51.6,"v":0.289,"t":"i"}]},"mark":{"type":"point","shape":"circle","filled":true,"color":"black","opacity":1,"size":707}},
  {"data":{"values":[{"e":51.6,"v":0.289,"t":"i"}]},"mark":{"type":"text","color":"white","fontSize":32,"font":"Liberation Serif","baseline":"middle","align":"center","dy":-2},"encoding":{"text":{"field":"t"}}}
 ]}
],
"config":{
 "font":"Liberation Serif",
 "view":{"stroke":"#8c8c8c","strokeWidth":1},
 "axis":{"labelFont":"Liberation Serif","labelFontSize":12,"labelColor":"#404040","titleFont":"Liberation Serif","titleFontSize":13,"titleFontWeight":"normal","titleColor":"#404040","grid":false,"ticks":false,"domain":false,"labelPadding":3,"labelFlush":false,"labelOverlap":false,"titlePadding":-1},
 "axisX":{"titlePadding":5},
 "title":{"font":"Liberation Serif","fontSize":17.5,"fontWeight":"bold","color":"#000000","frame":"group","anchor":"middle","offset":2},
 "legend":{"labelFont":"Liberation Serif","labelFontSize":10.5,"labelColor":"#262626","symbolType":"stroke","symbolStrokeWidth":1.5,"symbolSize":49,"fillColor":"white","strokeColor":"#8c8c8c","padding":1.5,"rowPadding":0,"labelOffset":1,"symbolOffset":0}
}
}
